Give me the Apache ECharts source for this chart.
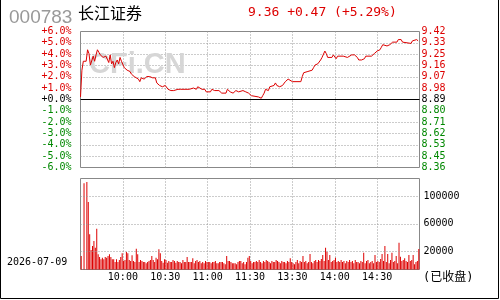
<!DOCTYPE html>
<html>
<head>
<meta charset="utf-8">
<script src="https://cdn.jsdelivr.net/npm/echarts@6/dist/echarts.min.js"></script>
<style>
  html, body { margin: 0; padding: 0; background: #fff; }
  #chart { width: 500px; height: 300px; }
</style>
</head>
<body>
<div id="chart"></div>
<script>
// 行情数据
const stockCode = '000783'
const stockName = '长江证券'
const preClose = 8.89
const lastPrice = 9.36
const tradeDate = '2026-07-09'
const timeLabels = ['10:00', '10:30', '11:00', '11:30', '13:30', '14:00', '14:30']
const volTicks = [20000, 60000, 100000]

// 分时价格：分钟序号 + 价格
const priceMinutes = [
  0, 1, 2, 4, 5, 6, 7, 8, 9, 10, 11, 12, 13, 14, 15, 16, 17, 18, 19, 20,
  21, 22, 23, 24, 25, 26, 27, 28, 29, 30, 31, 33, 35, 36, 38, 39, 41, 42, 43, 45,
  46, 47, 49, 51, 53, 54, 56, 58, 60, 61, 62, 64, 65, 66, 67, 69, 71, 72, 74, 75,
  77, 78, 80, 81, 82, 83, 84, 86, 88, 89, 90, 92, 93, 94, 95, 98, 100, 103, 104, 105,
  106, 107, 108, 110, 112, 113, 115, 117, 118, 119, 120, 121, 122, 126, 127, 128, 129, 130, 131, 132,
  133, 134, 135, 137, 138, 139, 140, 141, 143, 144, 145, 146, 147, 148, 150, 156, 157, 158, 159, 161,
  162, 164, 165, 166, 168, 169, 170, 171, 172, 173, 174, 175, 176, 178, 179, 180, 181, 182, 183, 186,
  187, 189, 190, 192, 194, 195, 196, 197, 199, 200, 201, 202, 206, 207, 208, 209, 210, 212, 213, 214,
  215, 217, 218, 219, 220, 221, 224, 225, 227, 228, 229, 234, 235, 236, 238, 239
]
const prices = [
  8.91, 9.12, 9.19, 9.19, 9.28, 9.25, 9.16, 9.17, 9.23, 9.19, 9.24, 9.28, 9.26, 9.24, 9.23, 9.22, 9.21, 9.23, 9.22, 9.18,
  9.24, 9.17, 9.19, 9.14, 9.18, 9.20, 9.17, 9.22, 9.19, 9.19, 9.14, 9.12, 9.11, 9.09, 9.07, 9.07, 9.05, 9.03, 9.06, 9.05,
  9.06, 9.07, 9.07, 9.06, 9.06, 9.02, 9.00, 8.99, 9.00, 8.99, 8.97, 8.96, 8.97, 8.96, 8.97, 8.97, 8.97, 8.98, 8.97, 8.96,
  8.97, 8.98, 8.98, 8.99, 8.97, 8.99, 8.98, 8.97, 8.97, 8.95, 8.94, 8.95, 8.97, 8.98, 8.96, 8.96, 8.94, 8.94, 8.97, 8.97,
  8.95, 8.95, 8.94, 8.96, 8.95, 8.96, 8.96, 8.95, 8.96, 8.94, 8.93, 8.92, 8.91, 8.91, 8.90, 8.90, 8.92, 8.94, 8.97, 8.96,
  8.96, 8.99, 8.99, 9.00, 9.02, 9.00, 8.99, 8.99, 9.00, 9.01, 9.03, 9.03, 9.05, 9.05, 9.03, 9.03, 9.07, 9.10, 9.11, 9.11,
  9.12, 9.12, 9.14, 9.16, 9.17, 9.18, 9.20, 9.22, 9.22, 9.27, 9.25, 9.22, 9.22, 9.22, 9.24, 9.24, 9.21, 9.23, 9.23, 9.23,
  9.22, 9.22, 9.23, 9.24, 9.24, 9.23, 9.22, 9.20, 9.20, 9.20, 9.21, 9.23, 9.23, 9.24, 9.25, 9.26, 9.27, 9.28, 9.30, 9.32,
  9.31, 9.31, 9.32, 9.32, 9.33, 9.34, 9.34, 9.36, 9.36, 9.34, 9.33, 9.33, 9.35, 9.36, 9.36, 9.35
]

// 每分钟成交量
const volumes = [
  13200, null, 119000, null, 120900, 91800, 44750, 21900, 27700, 35000,
  25200, 52900, 15600, 11700, 8350, 10700, 8350, 11700, 10700, 13200,
  15600, 11700, 8350, 8350, 4400, 8350, 4400, 7300, 11700, 17100,
  5900, 7300, 19000, 17100, 7300, 5900, 14200, 5900, 4400, 23800,
  15600, 4400, 7300, 5900, 4400, 4400, 2500, 4400, 5900, 7300,
  13200, 7300, 4400, 10700, 8350, 22900, 17100, 5900, 3400, 8350,
  7330, 3400, 5880, 4420, 4420, 7330, 5880, 3400, 5880, 4420,
  4420, 2530, 7330, 4420, 4420, 11700, 4420, 4420, 4420, 9800,
  2530, 5880, 7330, 4420, 5880, 2530, 4420, 2530, 5880, 4420,
  4420, 4420, 2530, 4420, 4420, 5880, 2530, 2530, 4420, 4420,
  4420, 2530, 1070, 13200, 5880, 5880, 4420, 2530, 2530, 2530,
  1070, 4420, 5880, 5880, 2530, 4420, 1070, 4420, 10700, 13200,
  5880, 2530, 4420, 4420, 5880, 4420, 7330, 4420, 2530, 5880,
  4420, 7330, 5880, 4420, 2530, 5880, 4420, 4420, 7330, 5880,
  4420, 2530, 5880, 4420, 4420, 2530, 5880, 4420, 9800, 4420,
  2530, 1070, 4420, 7330, 2530, 5880, 4420, 13160, 4420, 5880,
  2530, 4420, 16070, 4420, 2530, 5880, 7330, 4420, 7330, 5880,
  8790, 14600, 5880, 25240, 19420, 7330, 14600, 4420, 5880, 7330,
  10700, 4420, 5880, 4420, 7330, 4420, 5880, 2530, 5880, 4420,
  7330, 4420, 5880, 2530, 7330, 4420, 4420, 2530, 5880, 4420,
  17960, 2530, 5880, 7330, 2530, 4420, 5880, 2530, 14600, 4420,
  5880, 4420, 8790, 16070, 5880, 27700, 4420, 16070, 2530, 7330,
  17960, 4420, 5880, 13160, 2530, 32520, 12140, 5880, 7330, 9800,
  5880, 4420, 14600, 5880, 7330, 14600, 1070, 4420, 5880, 23350
]

const RED = '#dd0000'
const GREEN = '#008800'
const MONO = '"DejaVu Sans Mono", "Liberation Mono", monospace'
const change = lastPrice - preClose
const changePct = change / preClose * 100

function upDownColor(v) {
  const p = Math.round(parseFloat(v) * 100)
  const base = Math.round(preClose * 100)
  if (p > base) return RED
  if (p < base) return GREEN
  return '#000'
}

const dotted = { color: '#999', type: [1, 2], width: 1 }

const myChart = echarts.init(document.getElementById('chart'), null, { renderer: 'canvas' })
myChart.setOption({
  animation: false,
  backgroundColor: '#fff',
  textStyle: { fontFamily: MONO },
  grid: [
    { left: 80.5, right: 80.5, top: 31.5, bottom: 132.5, show: true, borderColor: '#888', borderWidth: 1, outerBoundsMode: 'none' },
    { left: 80.5, right: 80.5, top: 178.5, bottom: 30.5, show: true, borderColor: '#888', borderWidth: 1, outerBoundsMode: 'none' }
  ],
  xAxis: [
    {
      gridIndex: 0,
      type: 'value',
      min: 0,
      max: 240,
      interval: 30,
      axisLine: { show: false },
      axisTick: { show: false },
      axisLabel: { show: false },
      splitLine: { show: true, showMinLine: false, showMaxLine: false, lineStyle: dotted }
    },
    {
      gridIndex: 1,
      type: 'value',
      min: 0,
      max: 240,
      interval: 30,
      axisLine: { show: false },
      axisTick: { show: false },
      splitLine: { show: true, showMinLine: false, showMaxLine: false, lineStyle: dotted },
      axisLabel: {
        show: true,
        margin: 3,
        color: '#000',
        fontFamily: MONO,
        fontSize: 10,
        showMinLabel: false,
        showMaxLabel: false,
        formatter: function(v) {
          return timeLabels[Math.round(v / 30) - 1] || ''
        }
      }
    }
  ],
  yAxis: [
    {
      gridIndex: 0,
      type: 'value',
      position: 'left',
      min: preClose * 0.94,
      max: preClose * 1.06,
      interval: preClose * 0.01,
      axisLine: { show: false },
      axisTick: { show: false },
      splitLine: { show: true, showMinLine: false, showMaxLine: false, lineStyle: dotted },
      axisLabel: {
        margin: 9,
        fontFamily: MONO,
        fontSize: 10,
        color: upDownColor,
        formatter: function(v) {
          const p = Math.round((v / preClose - 1) * 1000) / 10
          return (p >= 0 ? '+' : '') + p.toFixed(1) + '%'
        }
      }
    },
    {
      gridIndex: 0,
      type: 'value',
      position: 'right',
      min: preClose * 0.94,
      max: preClose * 1.06,
      interval: preClose * 0.01,
      axisLine: { show: false },
      axisTick: { show: false },
      splitLine: { show: false },
      axisLabel: {
        margin: 2,
        fontFamily: MONO,
        fontSize: 10,
        color: upDownColor,
        formatter: function(v) {
          return v.toFixed(2)
        }
      }
    },
    {
      gridIndex: 1,
      type: 'value',
      min: -6500,
      max: 126000,
      startValue: -6500,
      axisLine: { show: false },
      axisTick: { show: false },
      axisLabel: { show: false },
      splitLine: { show: false }
    }
  ],
  graphic: [
    { type: 'text', left: 9, top: 8, style: { text: stockCode, fill: '#999', font: '19px "Liberation Sans", Arial, sans-serif' } },
    { type: 'text', left: 78, top: 5, style: { text: stockName, fill: '#000', font: '16px "Noto Sans CJK SC", sans-serif' } },
    {
      type: 'text', left: 248, top: 6,
      style: {
        text: lastPrice.toFixed(2) + ' +' + change.toFixed(2) + ' (+' + changePct.toFixed(2) + '%)',
        fill: RED, font: '13px ' + MONO
      }
    },
    { type: 'text', left: 89, top: 50, z: 1, style: { text: 'CFi.CN', fill: '#d6d6d6', font: 'bold 29px "Liberation Sans", Arial, sans-serif' } },
    { type: 'text', left: 7, top: 257, style: { text: tradeDate, fill: '#000', font: '10px ' + MONO } },
    { type: 'text', left: 423, top: 272, style: { text: '(已收盘)', fill: '#000', font: '12px ' + MONO + ', "Noto Sans CJK SC"' } },
    {
      type: 'polyline', z: 10,
      shape: { points: [[0.5, 0], [0.5, 298.5], [498.5, 298.5], [498.5, 0]] },
      style: { stroke: '#000', lineWidth: 1, fill: null }
    }
  ],
  series: [
    {
      name: '价格',
      type: 'line',
      xAxisIndex: 0,
      yAxisIndex: 1,
      data: priceMinutes.map((m, i) => [m, prices[i]]),
      showSymbol: false,
      symbol: 'none',
      lineStyle: { color: RED, width: 1 },
      z: 3,
      markLine: {
        silent: true,
        symbol: 'none',
        label: { show: false },
        lineStyle: { color: '#000', type: 'solid', width: 1 },
        data: [{ yAxis: preClose }]
      }
    },
    {
      name: '成交量',
      type: 'bar',
      xAxisIndex: 1,
      yAxisIndex: 2,
      data: volumes.map((v, i) => [i + 0.5, v]),
      barWidth: 1,
      itemStyle: { color: RED },
      markLine: {
        silent: true,
        symbol: 'none',
        lineStyle: dotted,
        label: {
          show: true,
          position: 'end',
          distance: 4,
          color: '#000',
          fontFamily: MONO,
          fontSize: 10,
          formatter: '{c}'
        },
        data: volTicks.map(v => ({ yAxis: v }))
      }
    }
  ]
})
</script>
</body>
</html>
